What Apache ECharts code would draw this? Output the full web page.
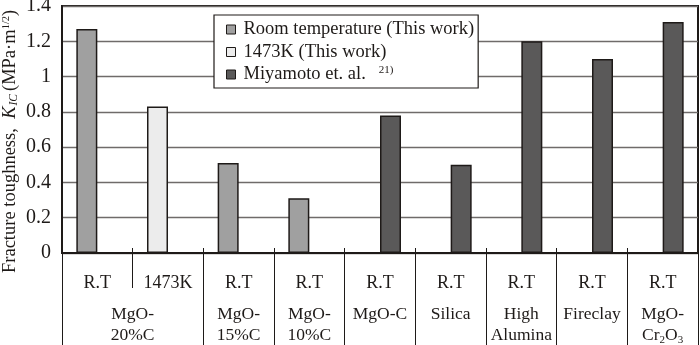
<!DOCTYPE html>
<html><head><meta charset="utf-8">
<script src="https://cdn.jsdelivr.net/npm/echarts@6/dist/echarts.min.js"></script>
<style>html,body{margin:0;padding:0;background:#fff}#c{width:700px;height:345px}</style>
</head><body><div id="c"></div>
<script>
// ---- data ----
const conditions = ['R.T', '1473K', 'R.T', 'R.T', 'R.T', 'R.T', 'R.T', 'R.T', 'R.T'];
const groups = ['MgO-\n20%C', 'MgO-\n15%C', 'MgO-\n10%C', 'MgO-C', 'Silica', 'High\nAlumina', 'Fireclay', 'MgO-\nCr2O3'];
const groupSpans = [2, 1, 1, 1, 1, 1, 1, 1];
const seriesNames = ['Room temperature (This work)', '1473K (This work)', 'Miyamoto et. al.'];
const roomTemp = [1.27, '-', 0.51, 0.31, '-', '-', '-', '-', '-'];
const hot1473 = ['-', 0.83, '-', '-', '-', '-', '-', '-', '-'];
const miyamoto = ['-', '-', '-', '-', 0.78, 0.50, 1.20, 1.10, 1.31];
const yMin = 0, yMax = 1.4, yStep = 0.2;
const yTitle = 'Fracture toughness,  {k|K}{ks|IC}{n|(MPa·m}{sup|1/2}{n|)}';
const refNote = '21)';

// ---- derived per-category group labels ----
const groupLabels = [];
const groupStarts = {};
const groupSpanOf = [];
groups.forEach((g, i) => {
  groupStarts[groupLabels.length] = true;
  groupSpanOf.push(groupSpans[i]);
  groupLabels.push(g);
  for (let k = 1; k < groupSpans[i]; k++) { groupLabels.push(''); groupSpanOf.push(0); }
});

const FONT = '"Liberation Serif", "Times New Roman", serif';
const INK = '#1e1a18';
const GRID_L = 62, GRID_R = 2;
const catW = (700 - GRID_L - GRID_R) / conditions.length;
const chart = echarts.init(document.getElementById('c'));
const barBase = { type: 'bar', barWidth: 21, barGap: '0%', xAxisIndex: 0 };
const border = { borderColor: INK, borderWidth: 1.5 };

function richLine(l) {
  if (l.indexOf('{') < 0) return '{n|' + l + '}';
  return l.replace(/^([^{]+)/, '{n|$1}').replace(/\}([^{}]+)\{/g, '}{n|$1}{').replace(/\}([^{}]+)$/, '}{n|$1}');
}

chart.setOption({
  animation: false,
  backgroundColor: '#fff',
  grid: { left: GRID_L, right: GRID_R, top: 6, bottom: 92, containLabel: false, outerBoundsMode: 'none',
          show: true, borderColor: INK, borderWidth: 2, backgroundColor: 'transparent' },
  graphic: [{
    type: 'text', x: 10.5, y: 273, rotation: Math.PI / 2, silent: true,
    style: {
      text: yTitle, align: 'left', verticalAlign: 'middle',
      fontFamily: FONT, fontSize: 18.5, fill: INK,
      rich: {
        k: { fontFamily: FONT, fontSize: 18.5, fontStyle: 'italic', fill: INK },
        ks: { fontFamily: FONT, fontSize: 11.5, fontStyle: 'italic', fill: INK, verticalAlign: 'bottom', padding: [0, 3, 0, 1] },
        n: { fontFamily: FONT, fontSize: 18.5, fill: INK },
        sup: { fontFamily: FONT, fontSize: 10.5, fill: INK, verticalAlign: 'top' }
      }
    }
  }],
  legend: {
    orient: 'vertical', left: 214, top: 15,
    padding: [5, 4, 4, 12], itemGap: 3.5,
    itemWidth: 9, itemHeight: 9,
    backgroundColor: '#fff', borderColor: INK, borderWidth: 1.2, borderRadius: 0,
    icon: 'rect',
    itemStyle: { borderColor: INK, borderWidth: 1 },
    data: seriesNames,
    formatter: function (name) {
      return name === seriesNames[2] ? '{t|' + name + '}{s|' + refNote + '}' : '{t|' + name + '}';
    },
    textStyle: {
      fontFamily: FONT, color: INK, fontSize: 18.5,
      rich: {
        t: { fontFamily: FONT, fontSize: 18.5, lineHeight: 19, color: INK, padding: [0, 0, 0, 3] },
        s: { fontFamily: FONT, fontSize: 11, color: INK, verticalAlign: 'top', padding: [0, 0, 0, 13] }
      }
    }
  },
  xAxis: [
    {
      type: 'category', data: conditions, position: 'bottom',
      axisLine: { lineStyle: { color: INK, width: 2 } },
      axisTick: { show: true, length: 35, lineStyle: { color: INK, width: 1 } },
      axisLabel: { interval: 0, margin: 20, fontFamily: FONT, fontSize: 18, color: INK, lineHeight: 20 },
      splitLine: { show: false }
    },
    {
      type: 'category', data: groupLabels, position: 'bottom', gridIndex: 0,
      axisLine: { show: false },
      axisTick: {
        show: true, length: 95, lineStyle: { color: INK, width: 1 },
        interval: function (index) { return !!groupStarts[index]; }
      },
      axisLabel: {
        interval: 0, margin: 51, fontFamily: FONT, fontSize: 17.5, color: INK, lineHeight: 21,
        formatter: function (value, index) {
          if (!value) return '';
          const txt = value.replace(/Cr2O3/, 'Cr{sub|2}O{sub|3}');
          const span = groupSpanOf[index];
          if (span > 1) {
            return txt.split('\n').map(l => '{w|' + l + '}').join('\n');
          }
          return txt.split('\n').map(richLine).join('\n');
        },
        rich: {
          n: { fontFamily: FONT, fontSize: 17.5, color: INK, lineHeight: 21 },
          w: { fontFamily: FONT, fontSize: 17.5, color: INK, lineHeight: 21, padding: [0, 0, 0, catW] },
          sub: { fontFamily: FONT, fontSize: 11, color: INK, lineHeight: 21, verticalAlign: 'bottom' }
        }
      }
    },
    {
      type: 'category', data: conditions, position: 'bottom', gridIndex: 0,
      axisLine: { show: false },
      axisTick: { show: true, inside: true, length: 5, lineStyle: { color: INK, width: 1 } },
      axisLabel: { show: false }
    }
  ],
  yAxis: {
    type: 'value', min: yMin, max: yMax, interval: yStep,
    axisLine: { show: true, lineStyle: { color: INK, width: 2 } },
    axisTick: { show: false },
    splitLine: { lineStyle: { color: '#6f6b6a', width: 1.3 } },
    axisLabel: { margin: 11, fontFamily: FONT, fontSize: 20, color: INK, padding: [6, 0, 0, 0] }
  },
  series: [
    Object.assign({}, barBase, { name: seriesNames[0], stack: 'a', data: roomTemp, itemStyle: Object.assign({ color: '#a0a0a0' }, border) }),
    Object.assign({}, barBase, { name: seriesNames[1], stack: 'a', data: hot1473, itemStyle: Object.assign({ color: '#ececec' }, border) }),
    Object.assign({}, barBase, { name: seriesNames[2], stack: 'b', data: miyamoto, itemStyle: Object.assign({ color: '#5a5959' }, border) })
  ]
});
</script>
</body></html>
